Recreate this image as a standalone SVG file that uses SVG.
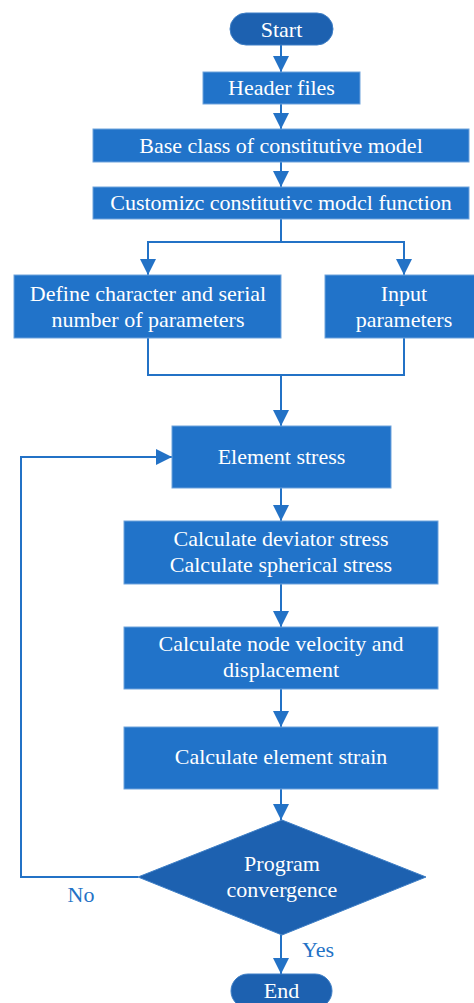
<svg xmlns="http://www.w3.org/2000/svg" width="474" height="1003" viewBox="0 0 474 1003">
<style>
.box{fill:#2173c9;stroke:#6fa3dc;stroke-width:1}
.term{fill:#1d61b0;stroke:#3f7fc6;stroke-width:1}
.t{fill:#ffffff;text-anchor:middle}
.lbl{fill:#2372c6;text-anchor:middle}
.ln{fill:none;stroke:#2372c6;stroke-width:2}
</style>
<defs>
<marker id="ah" markerUnits="userSpaceOnUse" markerWidth="16" markerHeight="16" viewBox="0 0 16 16" refX="16" refY="8" orient="auto">
<path d="M0,0 L16,8 L0,16 Z" fill="#2372c6"/>
</marker>
</defs>
<g id="connectors">
<line class="ln" x1="281" y1="45" x2="281" y2="72" marker-end="url(#ah)"/>
<line class="ln" x1="281" y1="104" x2="281" y2="129" marker-end="url(#ah)"/>
<line class="ln" x1="281" y1="162" x2="281" y2="187" marker-end="url(#ah)"/>
<polyline class="ln" points="281,219 281,242 148,242 148,275" marker-end="url(#ah)"/>
<polyline class="ln" points="281,242 404,242 404,275" marker-end="url(#ah)"/>
<polyline class="ln" points="148,338 148,375 404,375 404,338"/>
<line class="ln" x1="281" y1="375" x2="281" y2="426" marker-end="url(#ah)"/>
<line class="ln" x1="281" y1="488" x2="281" y2="521" marker-end="url(#ah)"/>
<line class="ln" x1="281" y1="584" x2="281" y2="627" marker-end="url(#ah)"/>
<line class="ln" x1="281" y1="689" x2="281" y2="727" marker-end="url(#ah)"/>
<line class="ln" x1="281" y1="789" x2="281" y2="820" marker-end="url(#ah)"/>
<polyline class="ln" points="138,877 21,877 21,457 172,457" marker-end="url(#ah)"/>
<line class="ln" x1="281" y1="935" x2="281" y2="974" marker-end="url(#ah)"/>
<text class="lbl" font-family="Liberation Serif" font-size="22" x="81" y="902">No</text>
<text class="lbl" font-family="Liberation Serif" font-size="22" x="318" y="957">Yes</text>
</g>
<g id="start">
<rect class="term" x="230" y="13" width="103" height="32" rx="16"/>
<text class="t" font-family="Liberation Serif" font-size="22" x="281.5" y="37">Start</text>
</g>
<g id="header">
<rect class="box" x="203" y="72" width="157" height="32"/>
<text class="t" font-family="Liberation Serif" font-size="22" x="281.5" y="95">Header files</text>
</g>
<g id="base">
<rect class="box" x="93" y="129" width="376" height="33"/>
<text class="t" font-family="Liberation Serif" font-size="22" x="281" y="153">Base class of constitutive model</text>
</g>
<g id="customize">
<rect class="box" x="93" y="187" width="376" height="32"/>
<text class="t" font-family="Liberation Serif" font-size="22" x="281" y="210">Customizc constitutivc modcl function</text>
</g>
<g id="define">
<rect class="box" x="14" y="275" width="267" height="63"/>
<text class="t" font-family="Liberation Serif" font-size="22" x="148" y="301">Define character and serial</text>
<text class="t" font-family="Liberation Serif" font-size="22" x="148" y="327">number of parameters</text>
</g>
<g id="input">
<rect class="box" x="325" y="275" width="152" height="63"/>
<text class="t" font-family="Liberation Serif" font-size="22" x="404" y="301">Input</text>
<text class="t" font-family="Liberation Serif" font-size="22" x="404" y="327">parameters</text>
</g>
<g id="element-stress">
<rect class="box" x="172" y="426" width="219" height="62"/>
<text class="t" font-family="Liberation Serif" font-size="22" x="281.5" y="464">Element stress</text>
</g>
<g id="deviator">
<rect class="box" x="124" y="521" width="314" height="63"/>
<text class="t" font-family="Liberation Serif" font-size="22" x="281" y="546">Calculate deviator stress</text>
<text class="t" font-family="Liberation Serif" font-size="22" x="281" y="572">Calculate spherical stress</text>
</g>
<g id="velocity">
<rect class="box" x="124" y="627" width="314" height="62"/>
<text class="t" font-family="Liberation Serif" font-size="22" x="281" y="651">Calculate node velocity and</text>
<text class="t" font-family="Liberation Serif" font-size="22" x="281" y="677">displacement</text>
</g>
<g id="strain">
<rect class="box" x="124" y="727" width="314" height="62"/>
<text class="t" font-family="Liberation Serif" font-size="22" x="281" y="764">Calculate element strain</text>
</g>
<g id="convergence">
<polygon class="term" points="282,820 426,877 282,935 138,877"/>
<text class="t" font-family="Liberation Serif" font-size="22" x="282" y="871">Program</text>
<text class="t" font-family="Liberation Serif" font-size="22" x="282" y="897">convergence</text>
</g>
<g id="end">
<rect class="term" x="231" y="974" width="101" height="34" rx="17"/>
<text class="t" font-family="Liberation Serif" font-size="22" x="281.5" y="998">End</text>
</g>
</svg>
